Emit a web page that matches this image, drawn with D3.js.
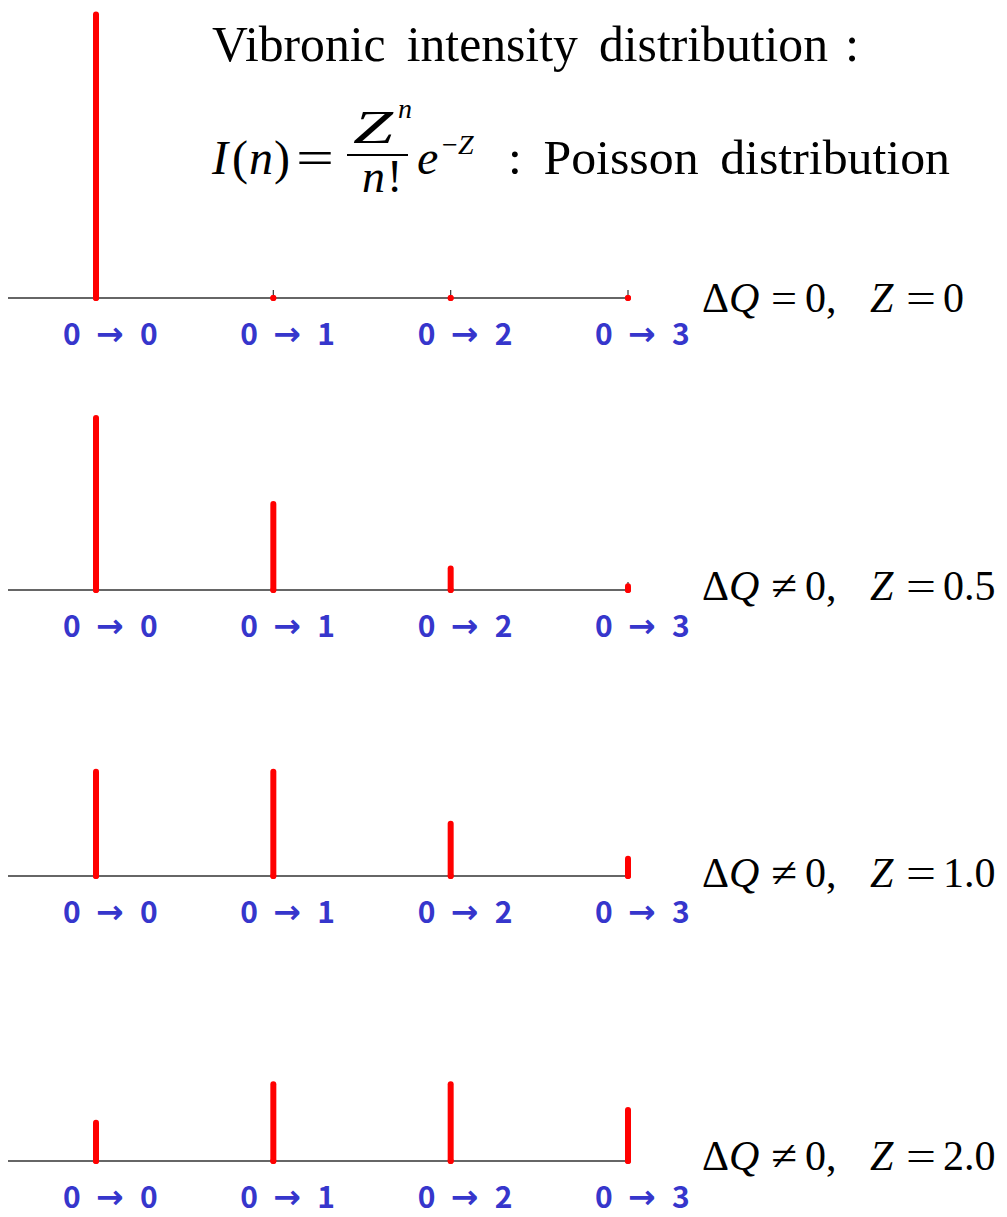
<!DOCTYPE html>
<html>
<head>
<meta charset="utf-8">
<script src="https://cdn.jsdelivr.net/npm/d3@7"></script>
<style>
  body { margin: 0; background: #fff; }
  svg { display: block; }
</style>
</head>
<body>
<div id="chart"></div>
<script>
// data
const transitions = [0, 1, 2, 3];
const transitionLabels = ["0", "1", "2", "3"];
const zValues = ["0", "0.5", "1.0", "2.0"];
const dqSigns = ["=", "≠", "≠", "≠"];
const intensityZ0 = [1.0, 0, 0, 0];
const intensityZ05 = [0.607, 0.303, 0.076, 0.013];
const intensityZ10 = [0.368, 0.368, 0.184, 0.061];
const intensityZ20 = [0.135, 0.271, 0.271, 0.180];
const series = [intensityZ0, intensityZ05, intensityZ10, intensityZ20];

// layout
const W = 1007, H = 1217;
const BASELINES = [298, 590, 876, 1161];
const NOTE_DY = [14, 10, 11, 9];
const SERIF = "'Liberation Serif', 'Times New Roman', serif";
const LABEL_FONT = "'Noto Sans CJK KR', 'Noto Sans', sans-serif";
const BLUE = "#3636cc";

const svg = d3.select("#chart").append("svg")
  .attr("width", W).attr("height", H);

const x = d3.scalePoint().domain(transitions).range([96, 628]);
const y = d3.scaleLinear().domain([0, 1]).range([0, 283.5]);

// helper for a piece of serif text
function put(g, str, px, py, size, opts = {}) {
  const t = g.append("text")
    .attr("x", px).attr("y", py)
    .attr("font-size", size)
    .text(str);
  if (opts.italic) t.attr("font-style", "italic");
  if (opts.len) t.attr("textLength", opts.len).attr("lengthAdjust", "spacingAndGlyphs");
  if (opts.ws) t.attr("word-spacing", opts.ws);
  return t;
}

// title + formula
const title = svg.append("g").attr("font-family", SERIF).attr("fill", "#000");
put(title, "Vibronic intensity distribution", 212, 61, 51, { ws: 9, len: 616 });
put(title, ":", 845, 61, 51);

put(title, "I", 212, 174, 48, { italic: true });
put(title, "(", 232, 174, 48);
put(title, "n", 249, 174, 48, { italic: true });
put(title, ")", 274, 174, 48);
put(title, "=", 296, 174, 48, { len: 38 });
put(title, "Z", 353, 143, 46, { italic: true, len: 40 });
put(title, "n", 398, 118, 28, { italic: true });
title.append("line").attr("x1", 347).attr("x2", 408).attr("y1", 155).attr("y2", 155)
  .attr("stroke", "#000").attr("stroke-width", 2);
put(title, "n", 362, 192, 46, { italic: true });
put(title, "!", 387, 192, 46);
put(title, "e", 417, 174, 48, { italic: true });
put(title, "−", 442, 154, 28);
put(title, "Z", 458, 154, 28, { italic: true });
put(title, ": Poisson distribution", 508, 174, 49, { ws: 9, len: 442 });

// panels
series.forEach((vals, p) => {
  const base = BASELINES[p];
  const g = svg.append("g").attr("transform", `translate(0,${base})`);

  // axis line and ticks
  g.append("line")
    .attr("x1", 8).attr("x2", x(3) + 2)
    .attr("y1", 0).attr("y2", 0)
    .attr("stroke", "#333").attr("stroke-width", 1.5);
  g.selectAll(".tick").data(transitions).join("line")
    .attr("x1", (d) => x(d)).attr("x2", (d) => x(d))
    .attr("y1", 0).attr("y2", -8)
    .attr("stroke", "#333").attr("stroke-width", 1.2);

  // intensity sticks
  g.selectAll(".stick").data(vals).join("line")
    .attr("x1", (d, i) => x(i)).attr("x2", (d, i) => x(i))
    .attr("y1", 0).attr("y2", (d) => -y(d))
    .attr("stroke", "#ff0000").attr("stroke-width", 6)
    .attr("stroke-linecap", "round");
  g.selectAll(".dot").data(vals).join("circle")
    .attr("cx", (d, i) => x(i)).attr("cy", 0).attr("r", 3)
    .attr("fill", "#ff0000");

  // transition labels
  const lab = g.selectAll(".lab").data(transitions).join("text")
    .attr("y", 47)
    .attr("font-family", LABEL_FONT).attr("font-weight", "bold")
    .attr("font-size", 30).attr("fill", BLUE);
  lab.append("tspan").attr("x", (d) => x(d) - 33).text("0");
  lab.append("tspan").attr("x", (d) => x(d) + 0)
    .attr("font-family", "'DejaVu Sans', sans-serif").attr("font-size", 33)
    .text("→");
  lab.append("tspan").attr("x", (d) => x(d) + 44).text((d) => transitionLabels[d]);

  // right-hand note
  const note = g.append("g")
    .attr("font-family", SERIF).attr("fill", "#000");
  const ny = NOTE_DY[p];
  put(note, "Δ", 702, ny, 42);
  put(note, "Q", 729, ny, 42, { italic: true });
  put(note, dqSigns[p], 771, ny, 42, { len: 26 });
  put(note, "0,", 805, ny, 42);
  put(note, "Z", 870, ny, 42, { italic: true });
  put(note, "=", 906, ny, 42, { len: 30 });
  put(note, zValues[p], 943, ny, 42);
});
</script>
</body>
</html>
